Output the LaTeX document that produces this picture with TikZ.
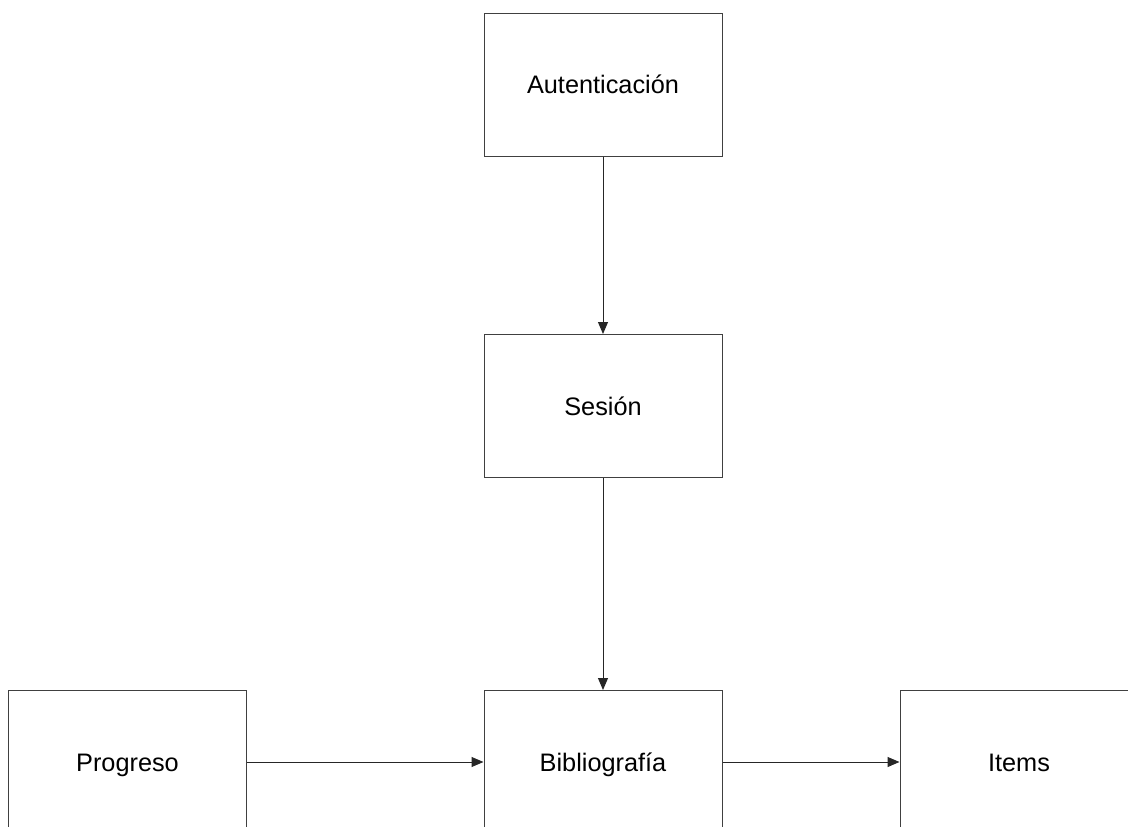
\documentclass[tikz,border=0pt]{standalone}
\usepackage{fontspec}
\setmainfont{Liberation Sans}
\usetikzlibrary{arrows.meta}
\begin{document}
\begin{tikzpicture}[x=1pt,y=-1pt,
  box/.style={draw=black!75,line width=1pt,fill=white,minimum width=238pt,minimum height=143pt,inner sep=0pt,text height=18pt,text depth=0pt,font=\fontsize{25.3}{30}\selectfont},
  conn/.style={draw=black!85,line width=1pt,-{Triangle[length=12pt,width=10pt]}}]
\useasboundingbox (0,0) rectangle (1128,827);
\clip (0,0) rectangle (1128,827);
\fill[white] (0,0) rectangle (1128,827);
\node[box] (aut) at (603,84.5) {Autenticación};
\node[box] (ses) at (603,406) {Sesión};
\node[box] (bib) at (603,762) {Bibliografía};
\node[box] (pro) at (127.5,762) {Progreso};
\node[box] (ite) at (1019,762) {Items};
\draw[conn] (aut.south) -- (ses.north);
\draw[conn] (ses.south) -- (bib.north);
\draw[conn] (pro.east) -- (bib.west);
\draw[conn] (bib.east) -- (ite.west);
\end{tikzpicture}
\end{document}
